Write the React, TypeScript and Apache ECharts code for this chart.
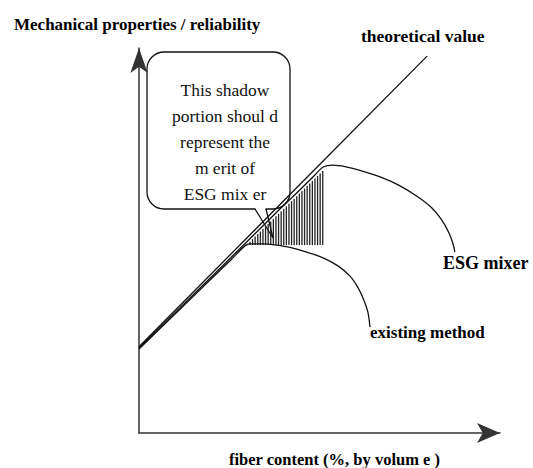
import React, { useEffect, useRef } from "react";
import * as echarts from "echarts";

// Data (x: fiber content 0-100, y: property 0-100)
const theoreticalValue: number[][] = [[0, 22.4], [79.8, 97.9]];
const esgMixer: number[][] = [
  [0, 22.1], [12.7, 33.8], [25.5, 45.6], [38.2, 57.4], [44.6, 63.2], [48.8, 67.1], [51, 69.1],
  [53.7, 69.6], [57.1, 69.2], [61.2, 68.2], [66.8, 66.5], [72.3, 64.2], [77.3, 61.3], [81.2, 58.4],
  [83.9, 55.3], [85.9, 51.9], [87, 49.1], [87.5, 47],
];
const existingMethod: number[][] = [
  [0, 21.8], [12.7, 33.4], [25.5, 45], [29.6, 48.8], [31.3, 49.1], [34.1, 49.1], [38.2, 48.8],
  [41.8, 48.2], [46, 47.1], [51, 45.5], [55.1, 43.4], [58.4, 40.8], [60.7, 37.7], [62.3, 34.5],
  [63.4, 31.4], [64, 27.5],
];
const shadeRegion: number[][] = [[29.6, 48.8], [51, 68.3], [51, 48.8]];

const titleY = "Mechanical properties / reliability";
const titleX = "fiber content (%, by volum e )";
const labelTheory = "theoretical value";
const labelEsg = "ESG mixer";
const labelExisting = "existing method";
const calloutLines = ["This shadow", "portion shoul d", "represent the", "m erit of", "ESG mix er"];

const SERIF = "'Liberation Serif', 'DejaVu Serif', serif";

export default function App() {
  const ref = useRef<HTMLDivElement>(null);
  useEffect(() => {
    if (!ref.current) return;
    const chart = echarts.init(ref.current, undefined, { renderer: "svg" });
    const boldText = (text: string, x: number, y: number, size = 17) => ({
      type: "text",
      x,
      y,
      style: {
        text,
        fontFamily: SERIF,
        fontSize: size,
        fontWeight: "bold",
        fill: "#000",
        verticalAlign: "middle",
      },
    });
    const calloutTexts = calloutLines.map((t, i) => ({
      type: "text",
      x: 225,
      y: 90 + i * 26,
      style: {
        text: t,
        fontFamily: SERIF,
        fontSize: 17.5,
        fill: "#111",
        align: "center",
        verticalAlign: "middle",
      },
    }));
    chart.setOption({
      animation: false,
      grid: { left: 139, top: 48, right: 33, bottom: 35 },
      xAxis: {
        type: "value",
        min: 0,
        max: 100,
        axisLine: { show: true, onZero: false, symbol: ["none", "arrow"], symbolSize: [15, 23], lineStyle: { color: "#333", width: 1.5 } },
        axisTick: { show: false },
        axisLabel: { show: false },
        splitLine: { show: false },
      },
      yAxis: {
        type: "value",
        min: 0,
        max: 100,
        axisLine: { show: true, onZero: false, symbol: ["none", "arrow"], symbolSize: [13, 25], lineStyle: { color: "#333", width: 1.5 } },
        axisTick: { show: false },
        axisLabel: { show: false },
        splitLine: { show: false },
      },
      graphic: [
        {
          type: "rect",
          shape: { x: 147, y: 52, width: 143, height: 157, r: 17 },
          style: { fill: "#fff", stroke: "#111", lineWidth: 1.3 },
        },
        {
          type: "line",
          shape: { x1: 255.5, y1: 209, x2: 265.5, y2: 209 },
          style: { stroke: "#fff", lineWidth: 3 },
        },
        {
          type: "polyline",
          shape: { points: [[255, 209], [273, 238], [266, 209]] },
          style: { fill: "none", stroke: "#111", lineWidth: 1.3 },
        },
        ...calloutTexts,
        boldText(titleY, 14, 24, 17),
        boldText(labelTheory, 361, 36, 17.5),
        boldText(labelEsg, 443, 263, 18),
        boldText(labelExisting, 370, 332, 17),
        boldText(titleX, 229, 459, 16.5),
      ],
      series: [
        {
          type: "custom",
          name: "shadow",
          data: [[0, 0]],
          clip: false,
          renderItem: (_params: any, api: any) => {
            const [a, b, c] = shadeRegion.map((p) => api.coord(p));
            const children: any[] = [];
            for (let x = a[0] + 1.5; x <= c[0] + 0.1; x += 2.6) {
              const yTop = a[1] + ((x - a[0]) / (b[0] - a[0])) * (b[1] - a[1]);
              const yBot = a[1] + ((x - a[0]) / (c[0] - a[0])) * (c[1] - a[1]);
              children.push({
                type: "line",
                shape: { x1: x, y1: yTop + 0.5, x2: x, y2: yBot },
                style: { stroke: "#222", lineWidth: 1.3 },
              });
            }
            return { type: "group", children };
          },
        },
        {
          type: "line",
          name: "theoretical value",
          data: theoreticalValue,
          showSymbol: false,
          clip: false,
          lineStyle: { color: "#111", width: 1.3 },
        },
        {
          type: "line",
          name: "ESG mixer",
          data: esgMixer,
          showSymbol: false,
          clip: false,
          smooth: 0.3,
          lineStyle: { color: "#111", width: 1.3 },
        },
        {
          type: "line",
          name: "existing method",
          data: existingMethod,
          showSymbol: false,
          clip: false,
          smooth: 0.3,
          lineStyle: { color: "#111", width: 1.3 },
        },
      ],
    });
    return () => chart.dispose();
  }, []);
  return <div ref={ref} style={{ position: "absolute", left: 0, top: 0, width: 533, height: 468 }} />;
}
